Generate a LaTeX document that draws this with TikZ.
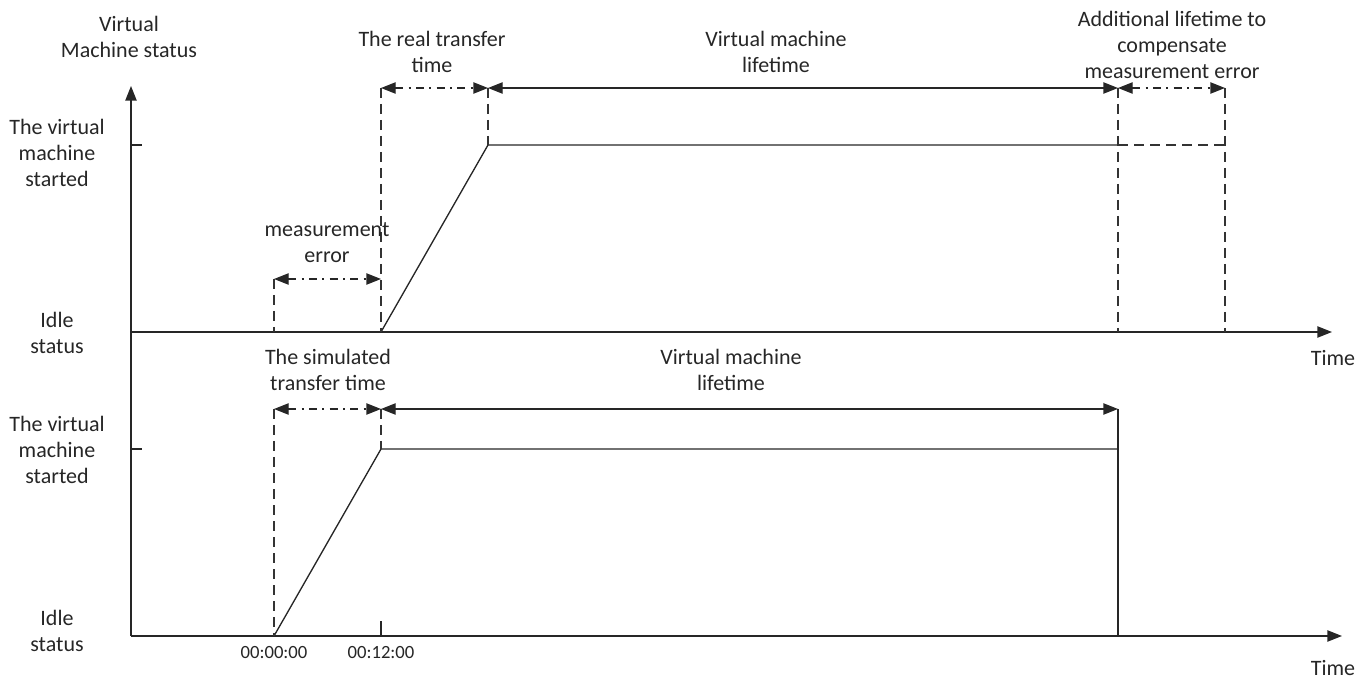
\documentclass[tikz,border=0pt]{standalone}
\usepackage{fontspec}
\setmainfont{Carlito}
\usetikzlibrary{arrows.meta}

\tikzset{
    txt/.style={align=center,inner sep=0.75pt,font=\fontsize{16.5}{19.5}\selectfont,text=black!85},
    ticktxt/.style={inner sep=0.75pt,font=\fontsize{14}{16}\selectfont,text=black!85},
    axis/.style={line width=1pt,draw=black!85,-{Triangle[length=11pt,width=8.5pt]}},
    plain/.style={line width=1pt,draw=black!85},
    guide/.style={line width=1pt,draw=black!80,dash pattern={on 7.5pt off 4.5pt}},
    span/.style={line width=1pt,draw=black!85,{Triangle[length=11pt,width=8.5pt]}-{Triangle[length=11pt,width=8.5pt]}},
    dspan/.style={span,dash pattern={on 6pt off 4pt on 1.5pt off 4pt}},
}

\begin{document}
\begin{tikzpicture}[x=0.75pt,y=0.75pt,yscale=-1,xscale=1]
\useasboundingbox (0,0) rectangle (1370,680);

%Points of the upper chart
\coordinate (ytop) at (131,86);
\coordinate (o1) at (131,332);
\coordinate (t1) at (1332,332);
\coordinate (a1) at (274,332);
\coordinate (b1) at (381,332);
\coordinate (s1) at (488,145);
\coordinate (d1) at (1118,145);
\coordinate (e1) at (1225,145);
\coordinate (me1) at (274,279);
\coordinate (me2) at (381,279);
\coordinate (p1) at (381,88);
\coordinate (p2) at (488,88);
\coordinate (p3) at (1118,88);
\coordinate (p4) at (1225,88);

%Points of the lower chart
\coordinate (o2) at (131,636);
\coordinate (t2) at (1342,636);
\coordinate (a2) at (274,636);
\coordinate (s2) at (381,449);
\coordinate (d2) at (1118,449);
\coordinate (q1) at (274,409);
\coordinate (q2) at (381,409);
\coordinate (q3) at (1118,409);

%Axes
\draw [axis] (o2) -- (ytop);
\draw [axis] (o1) -- (t1);
\draw [axis] (o2) -- (t2);
\draw [plain] (131,145) -- (142,145);
\draw [plain] (131,449) -- (142,449);
\draw [plain] (381,636) -- (381,621);

%Upper chart: real start-up
\draw [plain] (b1) -- (s1) -- (d1);
\draw [guide] (d1) -- (e1);
\draw [guide] (me1) -- (a1);
\draw [guide] (p1) -- (b1);
\draw [guide] (p2) -- (s1);
\draw [guide] (p3) -- (1118,332);
\draw [guide] (p4) -- (1225,332);
\draw [dspan] (me1) -- (me2);
\draw [dspan] (p1) -- (p2);
\draw [span] (p2) -- (p3);
\draw [dspan] (p3) -- (p4);

%Lower chart: simulated start-up
\draw [plain] (a2) -- (s2) -- (d2);
\draw [plain] (q3) -- (1118,636);
\draw [guide] (q1) -- (a2);
\draw [guide] (q2) -- (s2);
\draw [dspan] (q1) -- (q2);
\draw [span] (q2) -- (q3);

% Text Node
\node [txt] (vmstatus) at (129,37) {Virtual\\Machine status};
\node [txt] (started1) at (57,153) {The virtual\\machine\\started};
\node [txt] (idle1) at (57,333) {Idle\\status};
\node [txt] (started2) at (57,450) {The virtual\\machine\\started};
\node [txt] (idle2) at (57,631) {Idle\\status};
\node [txt] (time1) at (1333,358) {Time};
\node [txt] (time2) at (1333,668) {Time};
% Text Node
\node [txt] (meserr) at (327,243) {measurement\\error};
\node [txt] (realtt) at (432,52) {The real transfer\\time};
\node [txt] (life1) at (776,52) {Virtual machine\\lifetime};
\node [txt] (extra) at (1172,45) {Additional lifetime to\\compensate\\measurement error};
\node [txt] (simtt) at (328,370) {The simulated\\transfer time};
\node [txt] (life2) at (731,370) {Virtual machine\\lifetime};
% Text Node
\node [ticktxt] (tzero) at (274,653) {00:00:00};
\node [ticktxt] (ttwelve) at (381,653) {00:12:00};

\end{tikzpicture}
\end{document}
